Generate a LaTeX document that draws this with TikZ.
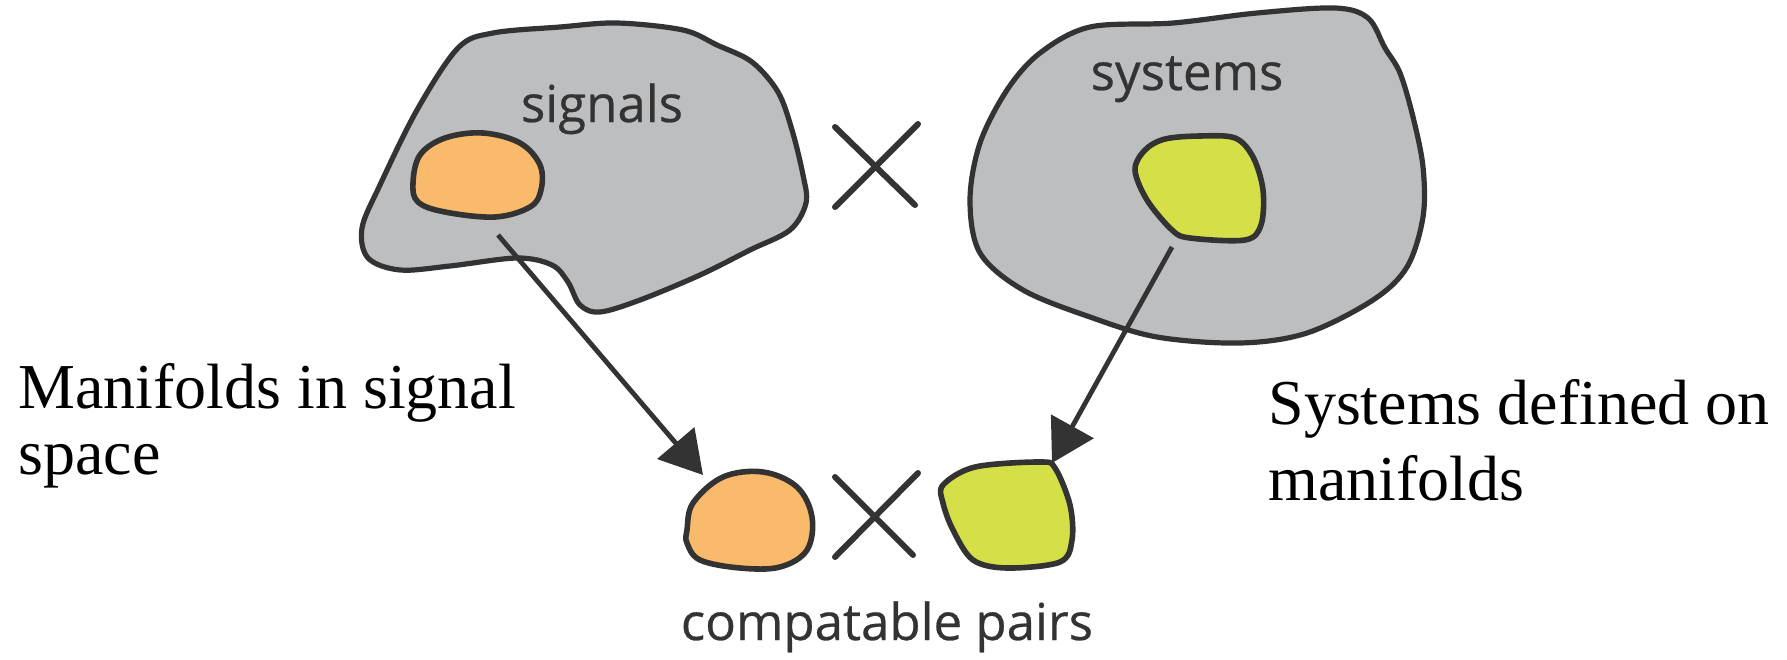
\documentclass[tikz,border=0pt]{standalone}
\usepackage{fontspec}
\setmainfont{Liberation Serif}
\newfontfamily\labelfont[FakeBold=0.5]{Open Sans}
\usetikzlibrary{arrows.meta}
\definecolor{blobgray}{RGB}{189,190,192}
\definecolor{ink}{RGB}{52,51,52}
\definecolor{sigorange}{RGB}{249,186,108}
\definecolor{sysgreen}{RGB}{213,224,72}
\tikzset{
  bigblob/.style={draw=ink, fill=blobgray, line width=2.6pt, line join=round},
  orangeblob/.style={draw=ink, fill=sigorange, line width=2.8pt, line join=round},
  greenblob/.style={draw=ink, fill=sysgreen, line width=2.8pt, line join=round},
  crossline/.style={draw=ink, line width=3pt, line cap=round},
  maparrow/.style={draw=ink, line width=2.4pt, -{Triangle[length=21pt,width=24pt]}},
  setlabel/.style={inner sep=0pt, text=ink, font=\labelfont\fontsize{25.5}{30}\selectfont},
  captext/.style={inner sep=0pt, align=left, text=black},
}
\begin{document}
\begin{tikzpicture}[x=0.5pt,y=-0.5pt]
\useasboundingbox (0,0) rectangle (1787,659);
% signals set
\draw[bigblob] plot[smooth cycle, tension=0.55] coordinates {
 (493,33) (560,27) (617,23) (683,30) (717,45) (752,62) (778,92) (792,130)
 (803,175) (806,203) (790,230) (750,250) (700,275) (640,300) (600,312)
 (580,305) (568,282) (552,265) (517,258) (450,266) (400,270) (368,258)
 (362,228) (380,185) (417,110) (458,48)};
\draw[orangeblob] plot[smooth cycle, tension=0.6] coordinates {
 (413,183) (420,155) (445,138) (483,133) (520,143) (540,165) (541,190)
 (530,207) (495,217) (445,212) (418,202)};
\node[setlabel, anchor=base] (signals) at (602,122) {signals};
% systems set
\draw[bigblob] plot[smooth cycle, tension=0.55] coordinates {
 (1040,53) (1090,27) (1173,23) (1257,13) (1335,8) (1368,18) (1385,48)
 (1400,73) (1413,117) (1423,167) (1423,217) (1407,267) (1373,300)
 (1307,333) (1240,343) (1157,337) (1090,317) (1023,290) (980,253)
 (970,200) (980,143) (1007,90)};
\draw[greenblob] plot[smooth cycle, tension=0.55] coordinates {
 (1135,170) (1145,150) (1165,139) (1200,136) (1235,138) (1253,157)
 (1263,190) (1261,225) (1245,240) (1190,238) (1172,230) (1147,200)};
\node[setlabel, anchor=base] (systems) at (1187,90) {systems};
% big cross
\coordinate (bx1) at (835,127); \coordinate (bx2) at (915,205);
\coordinate (bx3) at (918,124); \coordinate (bx4) at (835,207);
\draw[crossline] (bx1) -- (bx2);
\draw[crossline] (bx3) -- (bx4);
% bottom pair
\draw[orangeblob] plot[smooth cycle, tension=0.6] coordinates {
 (687,530) (693,503) (723,477) (763,472) (797,487) (812,517) (807,550)
 (780,567) (740,568) (700,560) (687,543)};
\draw[greenblob] plot[smooth cycle, tension=0.55] coordinates {
 (943,485) (975,467) (1040,462) (1055,468) (1070,505) (1072,540)
 (1060,562) (1007,568) (973,560) (953,530) (943,503)};
\coordinate (sx1) at (835,477); \coordinate (sx2) at (913,555);
\coordinate (sx3) at (918,473); \coordinate (sx4) at (835,557);
\draw[crossline] (sx1) -- (sx2);
\draw[crossline] (sx3) -- (sx4);
\node[setlabel, anchor=base] (pairs) at (887,640) {compatable pairs};
% mapping arrows
\coordinate (s1) at (498,235); \coordinate (t1) at (703,475);
\coordinate (s2) at (1172,247); \coordinate (t2) at (1052,463);
\draw[maparrow] (s1) -- (t1);
\draw[maparrow] (s2) -- (t2);
% captions
\node[captext, anchor=north west, font=\fontsize{32}{33}\selectfont] (leftcap) at (18,363)
 {Manifolds in signal\\space};
\node[captext, anchor=north west, font=\fontsize{32}{38}\selectfont] (rightcap) at (1268,379)
 {Systems defined on\\manifolds};
\end{tikzpicture}
\end{document}
